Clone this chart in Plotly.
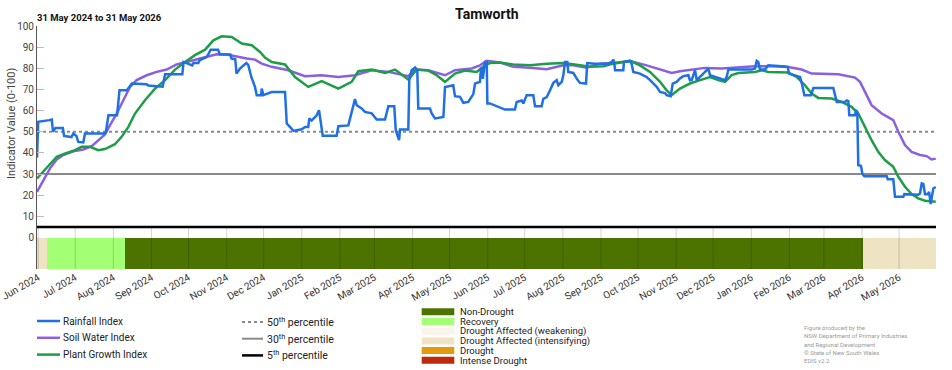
import pandas as pd
import plotly.graph_objects as go

START = "2024-05-31"
END = "2026-05-31"
TITLE = "Tamworth"
SUBTITLE = "31 May 2024 to 31 May 2026"

# ---- series (x = days since 31 May 2024) ----
rain_days = [0, 1, 10, 12, 13, 15, 21, 22, 28, 29.5, 32, 33.5, 37.6, 39, 55, 56, 58, 65, 67, 73, 77, 89, 90.4,
             102, 104, 118, 119, 126, 127, 131, 132, 138, 141, 147, 148.6, 157, 158, 161, 162, 165, 170, 171.6,
             174, 177, 178.4, 182, 182.5, 183.8, 186, 190.6, 201.4, 202.8, 205.4, 208.2, 214.9, 217.6, 220.3,
             221.1, 223, 227.1, 229, 230.4, 232, 243.3, 244.7, 252.8, 254.2, 258.2, 259.6, 263.6, 266.3, 271.8,
             275.8, 282.6, 285.3, 290.1, 291.3, 292.9, 294, 294.8, 301.5, 302.3, 304.2, 307, 308.8, 309.6, 319.1,
             320.5, 323.2, 330, 331.3, 338, 339.4, 343.5, 346.2, 350.2, 353, 354.3, 355.7, 359.7, 360.5, 361.1,
             362, 362.8, 363.8, 365.2, 365.7, 367.8, 370.5, 373.3, 376, 380, 388.1, 389.5, 393.6, 394.9, 397.6,
             403, 404.4, 409.8, 411.1, 413.9, 416.6, 419.3, 422, 423.3, 426.1, 427.4, 428.7, 430.6, 431.4, 435.5,
             438.2, 440.9, 445.8, 446.8, 453.1, 463.9, 466.7, 468, 468.8, 469.4, 476.1, 476.6, 481.5, 482.8,
             484.2, 489.6, 492.3, 495, 497.8, 500.4, 503.2, 505.9, 509.9, 511.3, 514.6, 516.2, 519.4, 522.1,
             524.8, 528.9, 530.2, 531.6, 534.3, 535.7, 538.4, 542.4, 545.1, 546.5, 550.5, 553.2, 557.3, 558.7,
             560, 561.4, 569.5, 580.3, 583, 584.4, 585.7, 587.1, 591.2, 592.5, 593.8, 607.4, 609.6, 610.6, 615.5,
             619.6, 621.4, 623.1, 628.5, 630.4, 646.6, 648, 649.4, 656.1, 657.5, 658.8, 659.6, 664.2, 665, 666.1,
             666.9, 669.1, 670.2, 671.8, 690, 690.8, 695.3, 696.7, 703.5, 704.3, 715.6, 717, 718.4, 719.7, 721.1,
             723.3, 724.4, 725.7, 727, 727.8, 729.8]
rain_vals = [37.7, 54.7, 55.5, 55.8, 50, 51.8, 51.8, 48, 47.5, 49.2, 48, 45.2, 45, 49.2, 49.2, 50, 57.8, 57.8,
             69.6, 69.6, 72.8, 72.5, 71.9, 71.3, 77.2, 77.2, 83, 81.4, 82.5, 82.5, 83.8, 85.4, 88.8, 88.8, 86.6,
             86.5, 84.6, 84.3, 77.5, 80, 82.5, 81.5, 75.9, 71.2, 67.3, 67.3, 70.4, 67.3, 67.8, 68.8, 68.8, 53.9,
             52.3, 50.4, 51.2, 52.3, 52.3, 56.3, 55.3, 57.8, 60.2, 55.3, 48.1, 48.1, 52.6, 53, 56, 65.4, 62.5, 61,
             59.4, 58.7, 55.8, 55.8, 62.1, 62.1, 50.8, 47.6, 46, 51.1, 51.1, 74.4, 79.1, 80.4, 79.1, 61, 61, 58.7,
             56.3, 57, 71.2, 72, 66.8, 66.5, 63.7, 64.1, 66.5, 67.8, 72.8, 73.6, 79.9, 79.9, 75, 80, 83, 83, 63.4,
             63.4, 62.8, 62.1, 61.5, 60.5, 60.5, 64.1, 64.8, 63.4, 67.3, 67.3, 62.1, 62.1, 65.6, 66.4, 69.6, 73.1,
             74.4, 72, 73.6, 76.7, 83, 83, 78.3, 77.8, 75.2, 73.1, 72.8, 82.5, 82.2, 82.2, 83, 84.1, 82.2, 79.1,
             79.1, 83, 83.5, 82.2, 78.3, 77.5, 76.7, 75.9, 74.4, 72.8, 71.2, 68.8, 68.3, 67.3, 66.8, 72.8, 73.6,
             75.2, 76.3, 76.7, 74.4, 74.4, 79.1, 74.4, 76, 78.3, 79.9, 76.7, 75.9, 75.2, 74.7, 74.4, 75.9, 79.4,
             79.4, 79.4, 79.9, 83.5, 83, 79.4, 79.4, 80.7, 81.4, 80.9, 80.6, 77.5, 76.7, 75.9, 72, 67.3, 67.3,
             70.7, 70.7, 67.3, 64.1, 64.1, 64.8, 64.5, 57.8, 57.8, 60.2, 59.4, 34.2, 33.9, 30, 29, 29, 27.5, 27.5,
             19.3, 19.3, 20.5, 20.2, 20.8, 25.6, 25.3, 20.5, 20.5, 21.6, 15.8, 20.8, 23.2, 23.9]

soil_days = [0, 5.1, 10.6, 16, 21.4, 29.5, 37.6, 44.4, 49.8, 55.2, 59.3, 64.7, 70.1, 75.5, 80.9, 89.1, 97.2,
             105.3, 113.4, 121.6, 129.7, 137.8, 145.9, 154, 162.2, 170.3, 177, 182.5, 190.6, 204.1, 217.6, 231.2,
             244.7, 258.2, 271.8, 285.3, 301.5, 307, 317.8, 331.3, 339.4, 353, 359.7, 365.2, 376, 386.8, 400.3,
             413.9, 427.4, 435.5, 446.3, 457.2, 468, 481.5, 495, 505.9, 515.4, 522.1, 535.7, 542.4, 555.9, 569.5,
             583, 596.5, 610.1, 620.9, 629, 650.7, 664.2, 668.3, 672.3, 677.7, 685.9, 695.3, 699.4, 704.8, 710.2,
             717, 722.4, 726.4, 729.8]
soil_vals = [21.6, 27.1, 32.7, 36.9, 39, 40.8, 41.6, 43.2, 46, 48.7, 53.1, 58.6, 64.9, 71.2, 74.4, 76.7, 78.3,
             79.4, 81.8, 83, 84.1, 85.4, 86.6, 86.5, 85.4, 84.6, 84.1, 82.2, 80.7, 79.1, 76.3, 76.7, 75.9, 76.7,
             79.1, 78.3, 76.3, 79.4, 79.1, 76.7, 79.1, 79.9, 81.4, 83.5, 82.7, 80.7, 80.3, 79.6, 81.4, 81.4, 80.3,
             82.2, 82.5, 83.5, 81.4, 79.4, 77.8, 78.6, 79.9, 80.2, 79.9, 80.6, 81, 81, 80.6, 79.4, 77.5, 77.2, 75.6,
             73.6, 68.8, 62.6, 58.6, 55.5, 50, 43.7, 40.5, 39, 38.5, 36.9, 37.3]

plant_days = [0, 5.1, 10.6, 16, 21.4, 29.5, 36.3, 43, 49.8, 55.2, 63.3, 68.7, 74.2, 79.6, 87.7, 95.8, 104, 112.1,
              120.2, 128.3, 136.5, 143.2, 150, 158.1, 166.3, 174.4, 181.1, 185.1, 190.6, 201.4, 209.5, 220.3, 231.2,
              244.7, 255.5, 260.9, 271.8, 282.6, 290.7, 301.5, 308.3, 317.8, 324.5, 331.3, 339.4, 347.5, 357,
              363.8, 367.8, 376, 386.8, 400.3, 413.9, 427.4, 440.9, 449, 459.9, 468, 481.5, 489.6, 497.8, 505.9,
              511.3, 515.4, 522.1, 530.2, 538.4, 546.5, 553.2, 558.7, 564.1, 569.5, 583, 588.5, 593.9, 610.1, 616.8,
              623.6, 629, 634.4, 645.3, 653.4, 661.5, 666.9, 672.3, 677.7, 683.1, 688.5, 695.3, 699.4, 704.8, 710.2,
              715.6, 721.1, 729.8]
plant_vals = [27.9, 31.1, 35, 38.2, 39.4, 41, 42.9, 42.9, 41.3, 41.8, 44.1, 47.6, 52.3, 58.6, 64.9, 70.4, 74.4,
              79.4, 83, 86.2, 88.8, 93.2, 95.1, 94.8, 91.7, 90.9, 87.7, 85.1, 83, 81.8, 75.9, 71.2, 73.9, 70.4,
              73.6, 78.6, 79.4, 77.8, 79.4, 74.7, 79.4, 78.9, 76.7, 73.6, 77.5, 78.9, 78.3, 81.4, 82.5, 82.7, 81.8,
              81.4, 82.2, 82.5, 81.4, 80.7, 81, 82.2, 83.5, 81.4, 78.3, 73.6, 69.6, 67.3, 70.4, 72.8, 74.4, 75.9,
              74.4, 73.6, 76.8, 77.8, 78.3, 79.1, 78.3, 78, 75.9, 72, 68.1, 66, 65.7, 64.1, 61.8, 58.6, 52.3, 46,
              40.5, 36.6, 33.4, 28.7, 24, 20.5, 18.5, 17.4, 16.9]

# ---- drought category band ----
band_start = [0, 8.5, 71.7, 671]
band_end = [8.5, 71.7, 671, 730]
band_cat = ["Drought Affected (intensifying)", "Recovery", "Non-Drought", "Drought Affected (intensifying)"]

categories = ["Non-Drought", "Recovery", "Drought Affected (weakening)",
              "Drought Affected (intensifying)", "Drought", "Intense Drought"]
cat_colors = ["#4C7300", "#A3FF73", "#FBF4EA", "#EEE3C2", "#E59A0D", "#BE2A0A"]

series_names = ["Rainfall Index", "Soil Water Index", "Plant Growth Index"]
series_colors = ["#1F6FE6", "#8A5FE0", "#1D9E46"]

pct_values = [50, 30, 5]
pct_labels = ["50<sup>th</sup> percentile", "30<sup>th</sup> percentile", "5<sup>th</sup> percentile"]
pct_colors = ["#8A8A8A", "#8A8A8A", "#000000"]
pct_dash = ["dot", "solid", "solid"]
pct_width = [2, 2, 2.5]

credits = ["Figure produced by the", "NSW Department of Primary Industries",
           "and Regional Development", "\u00a9 State of New South Wales", "EDIS v2.2"]

# ---- geometry ----
W, H = 952, 370
L, R, T, B = 37, 16, 26, 101
PW, PH = W - L - R, H - T - B


def fx(px):
    return (px - L) / PW


def fy(py):
    return (H - B - py) / PH


start = pd.Timestamp(START)


def to_dates(days):
    return list(start + pd.to_timedelta(days, unit="D"))


FONT = "Roboto, Inter, Liberation Sans, sans-serif"

fig = go.Figure()

for days, vals, name, col in [(soil_days, soil_vals, series_names[1], series_colors[1]),
                              (plant_days, plant_vals, series_names[2], series_colors[2]),
                              (rain_days, rain_vals, series_names[0], series_colors[0])]:
    fig.add_trace(go.Scatter(x=to_dates(days), y=vals, mode="lines", name=name,
                             line=dict(color=col, width=2.5), xaxis="x", yaxis="y",
                             showlegend=False))

# band bars
cmap = dict(zip(categories, cat_colors))
for s, e, c in zip(band_start, band_end, band_cat):
    mid = start + pd.to_timedelta((s + e) / 2, unit="D")
    fig.add_trace(go.Bar(x=[mid], y=[1], base=0, width=[(e - s) * 86400000],
                         marker=dict(color=cmap[c], line=dict(width=0)),
                         xaxis="x2", yaxis="y2", showlegend=False, hoverinfo="skip"))

# percentile lines
for v, c, d, w in zip(pct_values, pct_colors, pct_dash, pct_width):
    fig.add_shape(type="line", xref="x domain", yref="y", x0=0, x1=1, y0=v, y1=v,
                  line=dict(color=c, dash=d, width=w), layer="below")

# monthly grid lines in the band region
band_frac_top = fy(226.9)
for m in pd.date_range("2024-06-01", END, freq="MS"):
    fig.add_shape(type="line", xref="x2", yref="paper", x0=m, x1=m, y0=0, y1=band_frac_top,
                  line=dict(color="rgba(0,0,0,0.17)", width=1), layer="above")

main_bottom = fy(237.5)
band_top_frac = (269 - 238) / (269 - 226.9)

fig.update_layout(
    width=W, height=H, margin=dict(l=L, r=R, t=T, b=B, autoexpand=False),
    paper_bgcolor="white", plot_bgcolor="rgba(0,0,0,0)",
    font=dict(family=FONT, color="#333"),
    bargap=0, barmode="overlay",
    xaxis=dict(domain=[0, 1], anchor="y", range=[START, END], showticklabels=False,
               showgrid=False, zeroline=False, showline=False, automargin=False),
    xaxis2=dict(domain=[0, 1], anchor="y2", matches="x", range=[START, END],
                tick0="2024-06-01", dtick="M1", tickformat="%b %Y", tickangle=-30,
                tickfont=dict(size=10, color="#333"), showgrid=False, zeroline=False,
                showline=False, ticks="", ticklabeloverflow="allow", automargin=False),
    yaxis=dict(domain=[main_bottom, 1], range=[0, 100], dtick=10, showgrid=False, zeroline=False,
               showline=True, linecolor="#555", linewidth=1, ticks="inside", ticklen=7,
               tickcolor="#BBB", tickfont=dict(size=10, color="#444"), automargin=False),
    yaxis2=dict(domain=[0, fy(226.9)], range=[0, 1 / band_top_frac], showticklabels=False,
                showgrid=False, zeroline=False, showline=True, linecolor="#555", linewidth=1,
                automargin=False),
    showlegend=False,
)

ann = []
ann.append(dict(text="<b>" + TITLE + "</b>", x=0.5, y=fy(14), xref="paper", yref="paper",
                xanchor="center", yanchor="middle", showarrow=False,
                font=dict(size=14, color="#111")))
ann.append(dict(text="<b>" + SUBTITLE + "</b>", x=fx(37), y=fy(18), xref="paper", yref="paper",
                xanchor="left", yanchor="middle", showarrow=False, xshift=-2,
                font=dict(size=9.5, color="#111")))
ann.append(dict(text="Indicator Value (0-100)", x=fx(11), y=fy(124), xref="paper", yref="paper",
                xanchor="center", yanchor="middle", textangle=-90, showarrow=False,
                font=dict(size=11, color="#444")))

shapes = []
# legend: series
for i, (n, c) in enumerate(zip(series_names, series_colors)):
    yy = 321 + i * 16.8
    shapes.append(dict(type="line", xref="paper", yref="paper", x0=fx(37), x1=fx(60), y0=fy(yy), y1=fy(yy),
                       line=dict(color=c, width=2.5)))
    ann.append(dict(text=n, x=fx(61), y=fy(yy), xref="paper", yref="paper", xanchor="left",
                    yanchor="middle", showarrow=False, font=dict(size=10, color="#222")))
# legend: percentiles
for i, (lab, c, d, w) in enumerate(zip(pct_labels, pct_colors, pct_dash, pct_width)):
    yy = 322 + i * 16.7
    shapes.append(dict(type="line", xref="paper", yref="paper", x0=fx(242), x1=fx(263), y0=fy(yy), y1=fy(yy),
                       line=dict(color=c, width=w, dash=d)))
    ann.append(dict(text=lab, x=fx(265), y=fy(yy), xref="paper", yref="paper", xanchor="left",
                    yanchor="middle", showarrow=False, font=dict(size=10.5, color="#222")))
# legend: drought categories
for i, (cat, c) in enumerate(zip(categories, cat_colors)):
    y0 = 308.3 + i * 9.7
    shapes.append(dict(type="rect", xref="paper", yref="paper", x0=fx(421.7), x1=fx(454.3),
                       y0=fy(y0), y1=fy(y0 + 7), fillcolor=c, line=dict(width=0)))
    ann.append(dict(text=cat, x=fx(457.5), y=fy(y0 + 3.5), xref="paper", yref="paper", xanchor="left",
                    yanchor="middle", showarrow=False, font=dict(size=9.5, color="#222")))
# credits
for i, t in enumerate(credits):
    ann.append(dict(text=t, x=fx(802), y=fy(327.3 + i * 8.4), xref="paper", yref="paper",
                    xanchor="left", yanchor="middle", showarrow=False,
                    font=dict(size=6, color="#999")))

fig.update_layout(annotations=ann, shapes=list(fig.layout.shapes) + shapes)
fig.write_html("out.html")
